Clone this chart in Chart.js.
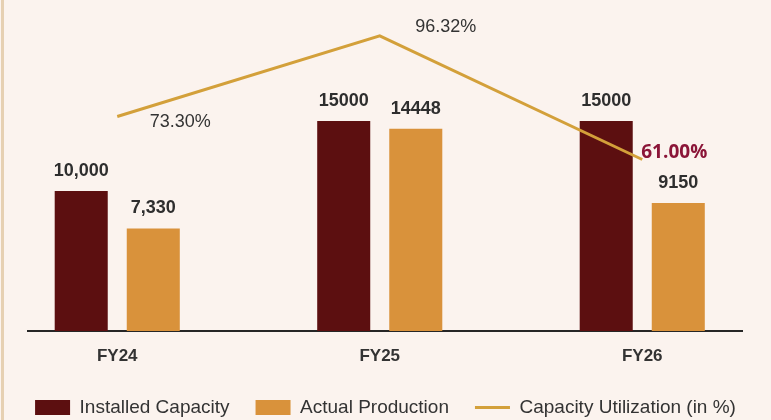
<!DOCTYPE html>
<html>
<head>
<meta charset="utf-8">
<script src="https://cdn.jsdelivr.net/npm/chart.js@4.4.1/dist/chart.umd.min.js"></script>
<style>
  html, body { margin: 0; padding: 0; background: #fbf3ee; }
  #wrap { position: relative; width: 771px; height: 420px; }
  #edge { position: absolute; left: 1px; top: 0; width: 3px; height: 420px; background: #e6d0b2; }
</style>
</head>
<body>
<div id="wrap">
  <canvas id="myChart" width="771" height="420"></canvas>
  <div id="edge"></div>
</div>
<script>
const categories = ['FY24', 'FY25', 'FY26'];
const installedCapacity = [10000, 15000, 15000];
const actualProduction = [7330, 14448, 9150];
const utilization = [73.30, 96.32, 61.00];

const installedLabels = ['10,000', '15000', '15000'];
const productionLabels = ['7,330', '14448', '9150'];
const utilizationLabels = ['73.30%', '96.32%', '61.00%'];

const MAROON = '#5c0f10';
const ORANGE = '#d9923b';
const GOLD = '#d3a03a';
const FONT = '"Liberation Sans", Arial, sans-serif';

const toPoints = arr => arr.map((v, i) => ({ x: i, y: v }));

// labels above bars and next to the utilization line
const valueLabels = {
  id: 'valueLabels',
  afterDatasetsDraw(chart, args, opts) {
    const ctx = chart.ctx;
    ctx.save();
    ctx.textAlign = 'center';
    ctx.textBaseline = 'middle';
    [installedLabels, productionLabels].forEach((labels, di) => {
      chart.getDatasetMeta(di).data.forEach((bar, i) => {
        ctx.font = 'bold 18px ' + FONT;
        ctx.fillStyle = '#2e2e2e';
        ctx.fillText(labels[i], bar.x, bar.y - 20);
      });
    });
    chart.getDatasetMeta(2).data.forEach((pt, i) => {
      const s = opts.lineLabels[i];
      ctx.font = s.font;
      ctx.fillStyle = s.color;
      ctx.fillText(utilizationLabels[i], pt.x + s.dx, pt.y + s.dy);
    });
    ctx.restore();
  }
};

const data = {
  datasets: [
    {
      label: 'Installed Capacity',
      data: toPoints(installedCapacity),
      backgroundColor: MAROON,
      borderWidth: 0,
      categoryPercentage: 0.549,
      barPercentage: 0.736,
      order: 1
    },
    {
      label: 'Actual Production',
      data: toPoints(actualProduction),
      backgroundColor: ORANGE,
      borderWidth: 0,
      categoryPercentage: 0.549,
      barPercentage: 0.736,
      order: 1
    },
    {
      type: 'line',
      label: 'Capacity Utilization (in %)',
      data: toPoints(utilization),
      yAxisID: 'y1',
      borderColor: GOLD,
      backgroundColor: GOLD,
      borderWidth: 3,
      pointRadius: 0,
      tension: 0,
      order: 0
    }
  ]
};

const hiddenAxis = {
  grid: { display: false, drawTicks: false },
  border: { display: false },
  ticks: { display: false }
};

const config = {
  type: 'bar',
  data: data,
  options: {
    responsive: false,
    animation: false,
    layout: { padding: { top: 30, left: 0, right: 0, bottom: 0 } },
    plugins: {
      tooltip: { enabled: false },
      legend: {
        position: 'bottom',
        maxHeight: 48,
        labels: {
          usePointStyle: true,
          pointStyleWidth: 35,
          boxHeight: 15,
          padding: 26,
          color: '#333',
          font: { family: FONT, size: 19 },
          generateLabels: chart => chart.data.datasets.map((ds, i) => ({
            text: ds.label,
            fillStyle: ds.backgroundColor,
            strokeStyle: ds.type === 'line' ? ds.borderColor : ds.backgroundColor,
            lineWidth: ds.type === 'line' ? 3 : 0,
            pointStyle: ds.type === 'line' ? 'line' : 'rect',
            fontColor: '#333',
            hidden: false,
            datasetIndex: i
          }))
        }
      },
      valueLabels: {
        lineLabels: [
          { dx: 63, dy: 6, font: '18px ' + FONT, color: '#333' },
          { dx: 66, dy: -9, font: '18px ' + FONT, color: '#333' },
          { dx: 32, dy: -7, font: 'bold 19px "Open Sans", ' + FONT, color: '#8b1538' }
        ]
      }
    },
    scales: {
      x: {
        type: 'linear',
        offset: false,
        min: -0.34,
        max: 2.38,
        afterBuildTicks: scale => { scale.ticks = categories.map((c, i) => ({ value: i })); },
        afterFit: scale => { scale.height = 41; },
        grid: { display: false, drawTicks: false },
        border: { display: true, color: '#262626', width: 2 },
        ticks: {
          autoSkip: false,
          padding: 15,
          color: '#333',
          font: { family: FONT, size: 17, weight: 'bold' },
          callback: v => categories[v]
        }
      },
      y: {
        ...hiddenAxis,
        position: 'left',
        min: 0,
        max: 21500,
        afterFit: scale => { scale.width = 28; }
      },
      y1: {
        ...hiddenAxis,
        position: 'right',
        min: 12,
        max: 98,
        afterFit: scale => { scale.width = 29; }
      }
    }
  },
  plugins: [valueLabels]
};

const ctx = document.getElementById('myChart').getContext('2d');
const chart = new Chart(ctx, config);
</script>
</body>
</html>
